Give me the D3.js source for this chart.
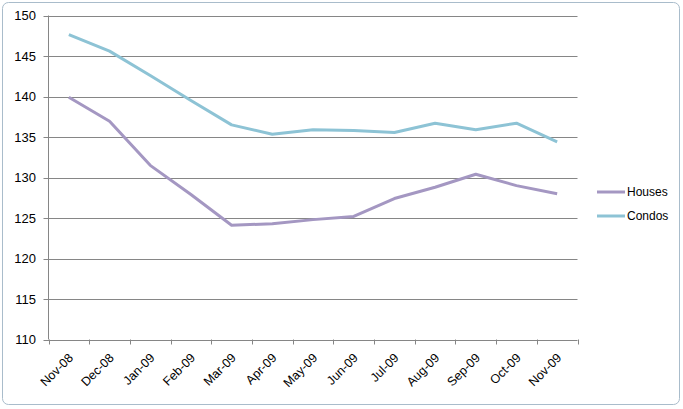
<!DOCTYPE html>
<html>
<head>
<meta charset="utf-8">
<script src="https://cdn.jsdelivr.net/npm/d3@7"></script>
<style>
  body { margin: 0; background: #ffffff; }
  text { font-family: "Liberation Sans", Arial, sans-serif; fill: #000; }
</style>
</head>
<body>
<div id="viz_container"></div>
<script>
// chart data
const months = ["Nov-08","Dec-08","Jan-09","Feb-09","Mar-09","Apr-09","May-09","Jun-09","Jul-09","Aug-09","Sep-09","Oct-09","Nov-09"];
const houses = [139.9, 136.95, 131.5, 127.9, 124.1, 124.3, 124.8, 125.2, 127.4, 128.8, 130.4, 129.0, 128.0];
const condos = [147.65, 145.6, 142.6, 139.5, 136.5, 135.35, 135.9, 135.8, 135.55, 136.7, 135.9, 136.7, 134.4];
const yTicks = [110, 115, 120, 125, 130, 135, 140, 145, 150];
const seriesNames = ["Houses", "Condos"];

const width = 683, height = 409;
const svg = d3.select("#viz_container")
  .append("svg")
  .attr("width", width)
  .attr("height", height);

// chart frame
svg.append("rect")
  .attr("x", 2.5).attr("y", 2.5)
  .attr("width", 677).attr("height", 402)
  .attr("rx", 6)
  .attr("fill", "#fff")
  .attr("stroke", "#A9BCCB")
  .attr("stroke-width", 1);

// plot area
const plotL = 48.5, plotR = 577.5, plotT = 15.5, plotB = 339.5;

const x = d3.scaleBand()
  .domain(months)
  .range([plotL, plotR]);

const y = d3.scaleLinear()
  .domain([110, 150])
  .range([plotB, plotT]);

// gridlines
svg.append("g")
  .selectAll("line")
  .data(yTicks)
  .join("line")
  .attr("x1", plotL - 5)
  .attr("x2", plotR)
  .attr("y1", d => Math.round(y(d)) + 0.5)
  .attr("y2", d => Math.round(y(d)) + 0.5)
  .attr("stroke", "#868686")
  .attr("stroke-width", 1);

// y axis line
svg.append("line")
  .attr("x1", plotL).attr("x2", plotL)
  .attr("y1", plotT).attr("y2", plotB)
  .attr("stroke", "#868686");

// y labels
svg.append("g")
  .selectAll("text")
  .data(yTicks)
  .join("text")
  .attr("x", 36)
  .attr("y", d => y(d))
  .attr("dy", "0.36em")
  .attr("text-anchor", "end")
  .style("font-size", "13px")
  .text(d => d);

// x tick marks at category boundaries
const bounds = months.map(m => x(m)).concat([plotR]);
svg.append("g")
  .selectAll("line")
  .data(bounds)
  .join("line")
  .attr("x1", d => Math.round(d) + 0.5)
  .attr("x2", d => Math.round(d) + 0.5)
  .attr("y1", plotB)
  .attr("y2", plotB + 5)
  .attr("stroke", "#868686");

// x labels, rotated
svg.append("g")
  .selectAll("text")
  .data(months)
  .join("text")
  .attr("text-anchor", "end")
  .attr("transform", d => `translate(${x(d) + x.bandwidth() / 2 + 2},${plotB + 16}) rotate(-45)`)
  .attr("dy", "0.35em")
  .style("font-size", "12.5px")
  .text(d => d);

// lines
const colors = { Houses: "#A497C2", Condos: "#8DC3D5" };
const series = [
  { name: "Houses", values: houses },
  { name: "Condos", values: condos }
];

const lineGen = d3.line()
  .x((d, i) => x(months[i]) + x.bandwidth() / 2)
  .y(d => y(d));

svg.append("g")
  .selectAll("path")
  .data(series)
  .join("path")
  .attr("d", d => lineGen(d.values))
  .attr("fill", "none")
  .attr("stroke", d => colors[d.name])
  .attr("stroke-width", 3)
  .attr("stroke-linejoin", "round");

// legend
const legend = svg.append("g")
  .selectAll("g")
  .data(seriesNames)
  .join("g")
  .attr("transform", (d, i) => `translate(597,${192 + i * 24})`);

legend.append("line")
  .attr("x1", 0).attr("x2", 28)
  .attr("stroke", d => colors[d])
  .attr("stroke-width", 3);

legend.append("text")
  .attr("x", 30)
  .attr("dy", "0.35em")
  .style("font-size", "12px")
  .text(d => d);
</script>
</body>
</html>
